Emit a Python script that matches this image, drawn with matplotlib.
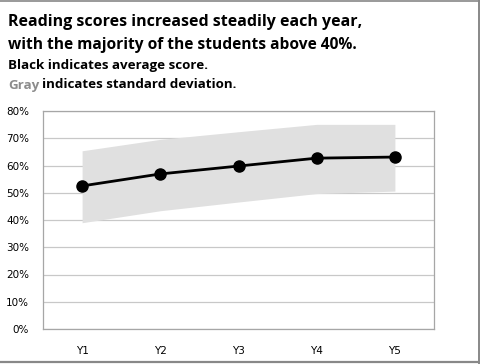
import matplotlib.pyplot as plt
from matplotlib.lines import Line2D
from matplotlib.ticker import FuncFormatter

# 数据
years = ['Y1', 'Y2', 'Y3', 'Y4', 'Y5']
avg = [52.5, 56.9, 59.8, 62.7, 63.1]
upper = [65.4, 69.6, 72.4, 75.1, 75.1]
lower = [39.0, 43.4, 46.6, 49.7, 50.6]

fig = plt.figure(figsize=(4.8, 3.64), dpi=100)
ax = fig.add_axes([43 / 480, 1 - 329 / 364, 391 / 480, 218 / 364])

x = range(len(years))
ax.fill_between(x, lower, upper, color='#e0e0e0', linewidth=0, zorder=1)
ax.plot(x, avg, color='black', linewidth=2.0, marker='o', markersize=8, zorder=3)

ax.set_xlim(-0.5, 4.5)
ax.set_ylim(0, 80)
ax.set_yticks(range(0, 81, 10))
ax.yaxis.set_major_formatter(FuncFormatter(lambda v, p: f'{v:.0f}%'))
ax.set_xticks(list(x))
ax.set_xticklabels(years)
ax.grid(axis='y', color='#c8c8c8', linewidth=0.9, zorder=0)
ax.set_axisbelow(True)
for s in ax.spines.values():
    s.set_color('#a6a6a6')
    s.set_linewidth(0.9)
ax.tick_params(length=0, labelsize=7.5, colors='black')
ax.tick_params(axis='x', pad=12)
ax.tick_params(axis='y', pad=10)

# 标题
font = ['Open Sans', 'DejaVu Sans']
fig.text(8 / 480, 1 - 22 / 364, 'Reading scores increased steadily each year,',
         fontsize=11.5, fontweight='bold', family=font, va='center')
fig.text(8 / 480, 1 - 45 / 364, 'with the majority of the students above 40%.',
         fontsize=11.2, fontweight='bold', family=font, va='center')
fig.text(8 / 480, 1 - 66 / 364, 'Black indicates average score.',
         fontsize=9.6, fontweight='bold', family=font, va='center')
t = fig.text(8 / 480, 1 - 85 / 364, 'Gray', color='#8c8c8c',
             fontsize=9.6, fontweight='bold', family=font, va='center')
fig.canvas.draw()
bb = t.get_window_extent()
fig.text(bb.x1 / 480 + 3 / 480, 1 - 85 / 364, 'indicates standard deviation.',
         fontsize=9.6, fontweight='bold', family=font, va='center')

# 外框 (上, 右, 下)
fc = '#888888'
fig.add_artist(Line2D([0, 478.5 / 480], [1 - 0.5 / 364] * 2, transform=fig.transFigure, color=fc, lw=1.2))
fig.add_artist(Line2D([478.5 / 480] * 2, [0, 1], transform=fig.transFigure, color=fc, lw=1.4))
fig.add_artist(Line2D([0, 478.5 / 480], [2 / 364] * 2, transform=fig.transFigure, color=fc, lw=1.6))

fig.savefig('out.png', dpi=100)
